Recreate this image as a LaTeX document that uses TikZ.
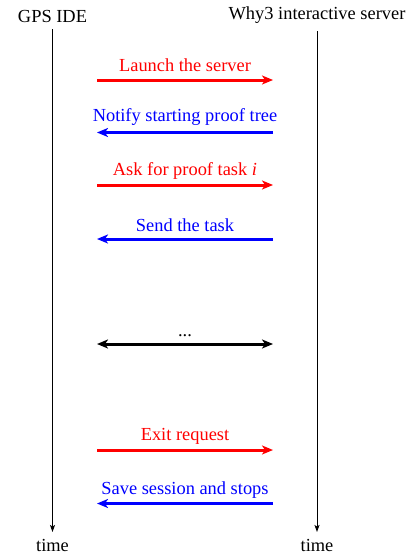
\documentclass[tikz,border=0pt]{standalone}
\usepackage{fontspec}
\setmainfont{Liberation Serif}
\usetikzlibrary{arrows.meta}
\begin{document}
\begin{tikzpicture}[x=1pt,y=-1pt,
  every node/.style={font=\fontsize{18.4}{22}\selectfont, inner sep=0pt, anchor=base},
  lifeline/.style={line width=0.9pt, -{Stealth[length=7pt,width=5pt,inset=1.5pt]}},
  msg/.style={line width=3pt, -{Stealth[length=11pt,width=9pt,inset=3pt]}},
  both/.style={line width=3pt, {Stealth[length=11pt,width=9pt,inset=3pt]}-{Stealth[length=11pt,width=9pt,inset=3pt]}},
  req/.style={msg, red},
  rsp/.style={msg, blue}]
\useasboundingbox (0,0) rectangle (412,554);
% headers and lifelines
\node (ide) at (52.5,22) {GPS IDE};
\node (srv) at (317,19.5) {Why3 interactive server};
\coordinate (ideT) at (52.5,29);
\coordinate (srvT) at (317,31);
\coordinate (ideB) at (52.5,532);
\coordinate (srvB) at (317,532);
\draw[lifeline] (ideT) -- (ideB);
\draw[lifeline] (srvT) -- (srvB);
\node (t1) at (52.5,551.5) {time};
\node (t2) at (317,551.5) {time};
% messages
\coordinate (a1) at (97,80);   \coordinate (b1) at (273,80);
\coordinate (a2) at (97,132.5);\coordinate (b2) at (273,132.5);
\coordinate (a3) at (97,185);  \coordinate (b3) at (273,185);
\coordinate (a4) at (97,239);  \coordinate (b4) at (273,239);
\coordinate (a5) at (97,344);  \coordinate (b5) at (273,344);
\coordinate (a6) at (97,450);  \coordinate (b6) at (273,450);
\coordinate (a7) at (97,503.5);\coordinate (b7) at (273,503.5);
\draw[req] (a1) -- (b1);
\draw[rsp] (b2) -- (a2);
\draw[req] (a3) -- (b3);
\draw[rsp] (b4) -- (a4);
\draw[both] (a5) -- (b5);
\draw[req] (a6) -- (b6);
\draw[rsp] (b7) -- (a7);
\node[red]  (l1) at (185,71)    {Launch the server};
\node[blue] (l2) at (185,121.5) {Notify starting proof tree};
\node[red]  (l3) at (185,175)   {Ask for proof task \textit{i}};
\node[blue] (l4) at (185,231.5) {Send the task};
\node       (l5) at (185,336)   {...};
\node[red]  (l6) at (185,440)   {Exit request};
\node[blue] (l7) at (185,494)   {Save session and stops};
\end{tikzpicture}
\end{document}
